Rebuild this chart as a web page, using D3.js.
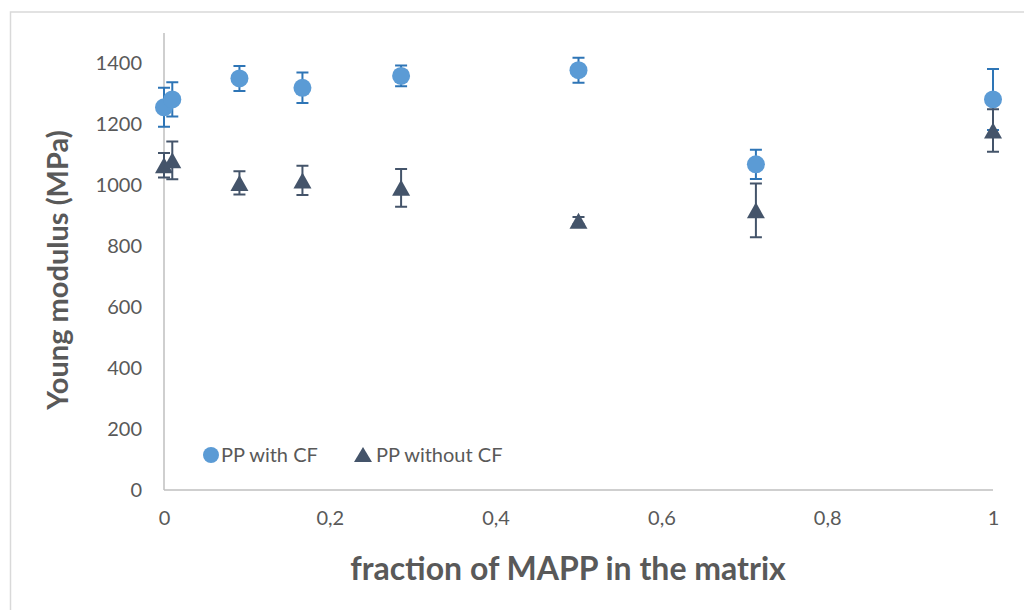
<!DOCTYPE html>
<html>
<head>
<meta charset="utf-8">
<script src="https://cdn.jsdelivr.net/npm/d3@7"></script>
<style>
  body { margin: 0; background: #fff; }
  svg { display: block; font-family: Lato, "Open Sans", sans-serif; }
  .tick-label { fill: #595959; font-size: 20px; }
  .axis-title { fill: #595959; font-weight: bold; }
  .legend-label { fill: #595959; font-size: 20px; }
</style>
</head>
<body>
<svg id="chart" width="1024" height="610"></svg>
<script>
// MAPP fraction in the matrix
var fractions = [0, 0.01, 0.091, 0.167, 0.286, 0.5, 0.714, 1];

// PP with CF
var withCF = [1256, 1282, 1351, 1320, 1359, 1378, 1069, 1282];
var withCFErr = [64, 56, 41, 50, 34, 41, 48, 100];

// PP without CF
var withoutCF = [1066, 1082, 1008, 1016, 992, 884, 918, 1180];
var withoutCFErr = [40, 62, 38, 48, 62, 12, 88, 70];

var xTicks = [0, 0.2, 0.4, 0.6, 0.8, 1];
var xTickLabels = ["0", "0,2", "0,4", "0,6", "0,8", "1"];
var yTicks = [0, 200, 400, 600, 800, 1000, 1200, 1400];

var seriesNames = ["PP with CF", "PP without CF"];

(function() {
  "use strict";

  var svg = d3.select('#chart');
  var plot = { left: 164, right: 993, top: 33, bottom: 490 };
  var colors = {
    circle: "#5B9BD5",
    circleErr: "#2E75B6",
    tri: "#44546A",
    axis: "#BFBFBF",
    frame: "#D9D9D9"
  };
  var triPath = "M0,-8L9,8L-9,8Z";
  var capHalf = 6;

  var xScale = d3.scaleLinear().domain([0, 1]).range([plot.left, plot.right]);
  var yScale = d3.scaleLinear().domain([0, 1500]).range([plot.bottom, plot.top]);

  // outer chart frame
  svg.append("rect")
    .attr("x", 10.5)
    .attr("y", 12)
    .attr("width", 1030)
    .attr("height", 620)
    .attr("fill", "none")
    .attr("stroke", colors.frame)
    .attr("stroke-width", 1.5);

  // axes: lines only, no tick marks
  var yAxis = d3.axisLeft(yScale).tickValues(yTicks).tickSize(0).tickPadding(22)
    .tickFormat(d3.format("d"));
  var xAxis = d3.axisBottom(xScale).tickValues(xTicks).tickSize(0).tickPadding(21)
    .tickFormat(function(d, i) { return xTickLabels[i]; });

  var gy = svg.append("g")
    .attr("transform", "translate(" + plot.left + ",0)")
    .call(yAxis);
  var gx = svg.append("g")
    .attr("transform", "translate(0," + plot.bottom + ")")
    .call(xAxis);

  [gx, gy].forEach(function(g) {
    g.select(".domain").attr("stroke", colors.axis).attr("stroke-width", 1.5);
    g.selectAll(".tick text").attr("class", "tick-label");
    g.attr("font-family", null).attr("font-size", null);
  });
  gy.select(".domain").attr("d", "M0," + plot.top + "V" + plot.bottom);
  gx.select(".domain").attr("d", "M" + plot.left + ",0H" + plot.right);

  // axis titles
  svg.append("text")
    .attr("class", "axis-title")
    .attr("text-anchor", "middle")
    .attr("font-size", 32)
    .attr("x", 568)
    .attr("y", 580)
    .text("fraction of MAPP in the matrix");

  svg.append("text")
    .attr("class", "axis-title")
    .attr("text-anchor", "middle")
    .attr("font-size", 29)
    .attr("transform", "translate(68,270) rotate(-90)")
    .text("Young modulus (MPa)");

  var drawErrors = function(values, errs, color) {
    var g = svg.append("g")
      .attr("stroke", color)
      .attr("stroke-width", 2)
      .attr("fill", "none");
    var data = values.map(function(v, i) {
      return { x: fractions[i], v: v, e: errs[i] };
    });
    g.selectAll("path.err")
      .data(data)
      .enter()
      .append("path")
      .classed("err", true)
      .attr("d", function(d) {
        var cx = xScale(d.x);
        var y1 = yScale(d.v + d.e);
        var y0 = yScale(d.v - d.e);
        return "M" + cx + "," + y1 + "V" + y0 +
          "M" + (cx - capHalf) + "," + y1 + "H" + (cx + capHalf) +
          "M" + (cx - capHalf) + "," + y0 + "H" + (cx + capHalf);
      });
  };

  // PP with CF
  drawErrors(withCF, withCFErr, colors.circleErr);
  svg.append("g").selectAll("circle")
    .data(withCF)
    .enter()
    .append("circle")
    .attr("cx", function(d, i) { return xScale(fractions[i]); })
    .attr("cy", function(d) { return yScale(d); })
    .attr("r", 9)
    .attr("fill", colors.circle);

  // PP without CF
  drawErrors(withoutCF, withoutCFErr, colors.tri);
  svg.append("g").selectAll("path.tri")
    .data(withoutCF)
    .enter()
    .append("path")
    .classed("tri", true)
    .attr("d", triPath)
    .attr("transform", function(d, i) {
      return "translate(" + xScale(fractions[i]) + "," + yScale(d) + ")";
    })
    .attr("fill", colors.tri);

  // legend
  var legend = svg.append("g");
  legend.append("circle")
    .attr("cx", 211)
    .attr("cy", 455)
    .attr("r", 8)
    .attr("fill", colors.circle);
  legend.append("text")
    .attr("class", "legend-label")
    .attr("x", 221)
    .attr("y", 462)
    .text(seriesNames[0]);
  legend.append("path")
    .attr("d", "M0,-8L9,7L-9,7Z")
    .attr("transform", "translate(363,455)")
    .attr("fill", colors.tri);
  legend.append("text")
    .attr("class", "legend-label")
    .attr("x", 376)
    .attr("y", 462)
    .text(seriesNames[1]);
})();
</script>
</body>
</html>
